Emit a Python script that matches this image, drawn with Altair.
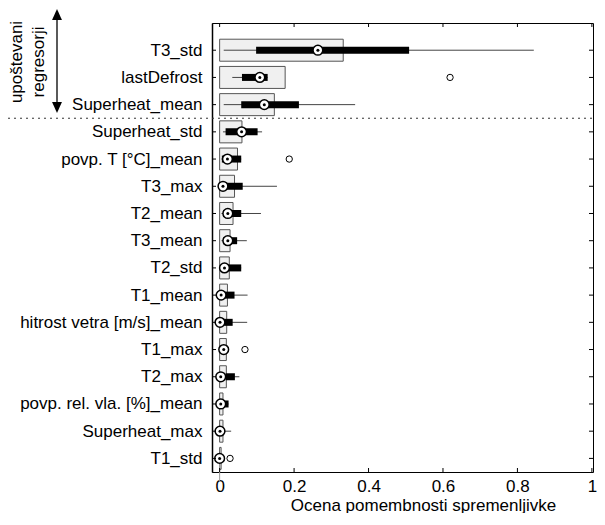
import json
import altair as alt
import pandas as pd

names = ["T3_std", "lastDefrost", "Superheat_mean", "Superheat_std",
         "povp. T [°C]_mean", "T3_max", "T2_mean", "T3_mean", "T2_std",
         "T1_mean", "hitrost vetra [m/s]_mean", "T1_max", "T2_max",
         "povp. rel. vla. [%]_mean", "Superheat_max", "T1_std"]
bar_val = [0.332, 0.176, 0.147, 0.060, 0.048, 0.040, 0.036, 0.028, 0.026,
           0.021, 0.019, 0.018, 0.018, 0.009, 0.009, 0.004]
whisk_lo = [0.011, 0.034, 0.011, 0.009, 0.005, 0.0, 0.005, 0.005, 0.0,
            0.0, 0.0, 0.004, 0.0, 0.0, 0.0, 0.0]
q1 = [0.098, 0.060, 0.058, 0.016, 0.006, 0.004, 0.009, 0.009, 0.004,
      0.0, 0.012, 0.006, 0.016, 0.0, 0.0, 0.0]
median = [0.264, 0.108, 0.120, 0.059, 0.021, 0.009, 0.022, 0.022, 0.013,
          0.004, 0.001, 0.011, 0.003, 0.003, 0.001, 0.0]
q3 = [0.509, 0.129, 0.213, 0.102, 0.058, 0.062, 0.058, 0.047, 0.058,
      0.040, 0.035, 0.015, 0.041, 0.024, 0.010, 0.003]
whisk_hi = [0.844, 0.129, 0.364, 0.114, 0.058, 0.154, 0.111, 0.073, 0.058,
            0.075, 0.074, 0.015, 0.053, 0.024, 0.031, 0.003]
outlier_idx = [1, 4, 11, 15]
outlier_val = [0.619, 0.187, 0.068, 0.028]
x_ticks = [0, 0.2, 0.4, 0.6, 0.8, 1.0]

W, H = 381, 449
FONT = "Liberation Sans"

df = pd.DataFrame({
    "idx": list(range(len(names))), "zero": 0.0,
    "bar": bar_val, "wlo": whisk_lo, "q1": q1, "med": median,
    "q3": q3, "whi": whisk_hi,
})
df_out = pd.DataFrame({"idx": outlier_idx, "val": outlier_val})
df_xt = pd.DataFrame({"v": x_ticks})

label_expr = json.dumps(names, ensure_ascii=False) + "[datum.value]"

xscale = alt.Scale(domain=[-0.0205, 1.003], nice=False, zero=False, padding=0)
yscale = alt.Scale(domain=[-1, 15.5], reverse=True, nice=False, zero=False,
                   padding=0)

x_axis = alt.Axis(values=x_ticks, format="~g", tickSize=0, grid=False,
                  domain=False, labelFont=FONT, labelFontSize=17,
                  labelColor="black", labelPadding=6,
                  title="Ocena pomembnosti spremenljivke",
                  titleFont=FONT, titleFontSize=17,
                  titleFontWeight="normal", titleColor="black",
                  titleX=211, titleY=38, titleBaseline="alphabetic")
y_axis = alt.Axis(values=list(range(len(names))), labelExpr=label_expr,
                  tickSize=0, grid=False, domain=True,
                  domainColor="black", domainWidth=1.5,
                  labelFont=FONT, labelFontSize=17, labelOverlap=False,
                  labelLimit=400, labelColor="black", labelPadding=10,
                  title=None)


def X(f):
    return alt.X(f, type="quantitative", scale=xscale, axis=x_axis)


Y = alt.Y("idx:Q", scale=yscale, axis=y_axis)

base = alt.Chart(df)

bars = base.mark_bar(orient="horizontal", size=22, color="#f0f0f0",
                     stroke="#555555", strokeWidth=1).encode(
    x=X("zero"), x2="bar:Q", y=Y)

whiskers = base.mark_rule(color="#444444", strokeWidth=1).encode(
    x=X("wlo"), x2="whi:Q", y=Y)

boxes = base.mark_bar(orient="horizontal", size=7, color="black").encode(
    x=X("q1"), x2="q3:Q", y=Y)

med_circ = base.mark_point(shape="circle", filled=True, fill="white",
                           stroke="black", strokeWidth=1.5, size=95,
                           opacity=1).encode(x=X("med"), y=Y)
med_dot = base.mark_point(shape="circle", filled=True, color="black",
                          size=9, opacity=1).encode(x=X("med"), y=Y)

outl = alt.Chart(df_out).mark_point(shape="circle", filled=False,
                                    color="black", strokeWidth=1, size=40,
                                    opacity=1).encode(x=X("val"), y=Y)

# inward ticks
tick_l = base.mark_rule(color="black", strokeWidth=1).encode(
    x=alt.value(0), x2=alt.value(4), y=Y)
tick_r = base.mark_rule(color="black", strokeWidth=1).encode(
    x=alt.value(W - 4), x2=alt.value(W), y=Y)
tick_b = alt.Chart(df_xt).mark_rule(color="black", strokeWidth=1).encode(
    x=X("v"), y=alt.value(H - 4), y2=alt.value(H))
tick_t = alt.Chart(df_xt).mark_rule(color="black", strokeWidth=1).encode(
    x=X("v"), y=alt.value(0), y2=alt.value(4))

zero_line = alt.Chart(pd.DataFrame({"v": [0.0]})).mark_rule(
    color="#999999", strokeWidth=1).encode(
    x=X("v"), y=alt.value(H - 8), y2=alt.value(H + 9))

sep = alt.Chart(pd.DataFrame({"idx": [2.5]})).mark_rule(
    color="#333333", strokeWidth=1, strokeDash=[2, 4]).encode(
    x=alt.value(-204), x2=alt.value(W), y=Y)

ann = alt.Chart(pd.DataFrame({"a": [0]}))
arrow_line = ann.mark_rule(color="black", strokeWidth=1.3).encode(
    x=alt.value(-155), y=alt.value(-8), y2=alt.value(84))
arrow_up = ann.mark_point(shape="M0,-1L0.9,1L-0.9,1Z", filled=True,
                          color="black", size=121, opacity=1).encode(
    x=alt.value(-155), y=alt.value(-8.5))
arrow_dn = ann.mark_point(shape="M0,1L0.9,-1L-0.9,-1Z", filled=True,
                          color="black", size=121, opacity=1).encode(
    x=alt.value(-155), y=alt.value(84.5))
txt1 = ann.mark_text(text="upoštevani", angle=270, font=FONT, fontSize=17,
                     align="center", baseline="middle", color="black").encode(
    x=alt.value(-195), y=alt.value(39))
txt2 = ann.mark_text(text="regresorji", angle=270, font=FONT, fontSize=17,
                     align="center", baseline="middle", color="black").encode(
    x=alt.value(-173), y=alt.value(39))

chart = alt.layer(
    bars, whiskers, boxes, med_circ, med_dot, outl, zero_line,
    tick_l, tick_r, tick_b, tick_t, sep,
    arrow_line, arrow_up, arrow_dn, txt1, txt2,
).properties(
    width=W, height=H,
    autosize=alt.AutoSizeParams(type="none"),
    padding={"left": 204, "top": 15, "right": 4, "bottom": 41},
).configure_view(
    stroke="black", strokeWidth=1
)

chart.save("out.html", embed_options={"renderer": "svg", "actions": False})
